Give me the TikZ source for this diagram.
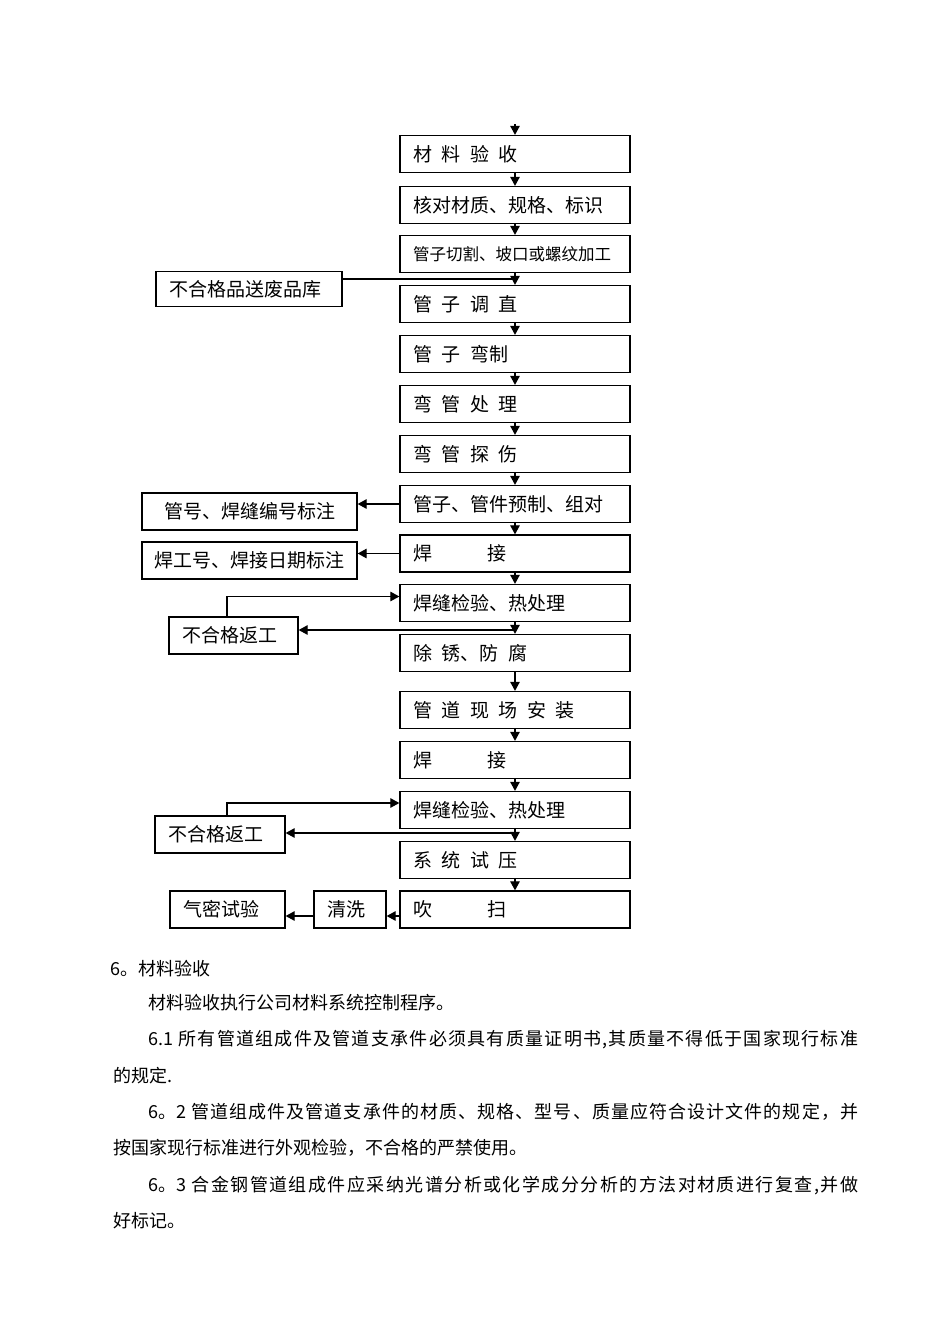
\documentclass[tikz,border=0pt]{standalone}
\usepackage{fontspec}
\setmainfont{Noto Sans CJK SC}
\usetikzlibrary{arrows.meta}
\makeatletter
\newcommand\spreadline[2]{\makebox[#1][s]{\@tfor\sp@c:=#2\do{\sp@c\hskip 0pt plus 1fil}\unskip}}
\makeatother
\newcommand\hs{\hspace{9.5pt}}
\begin{document}
\begin{tikzpicture}[x=1pt,y=-1pt,
  box/.style={draw,line width=1.3pt,minimum height=37pt,inner xsep=13pt,inner ysep=0pt,align=left,font=\fontsize{19pt}{22pt}\selectfont},
  mainbox/.style={box,text width=204pt},
  arr/.style={line width=1.2pt,-{Triangle[length=9pt,width=9.5pt]}},
  ln/.style={line width=1.2pt},
  body/.style={anchor=base west,inner sep=0pt,font=\fontsize{18pt}{22pt}\selectfont}]
\useasboundingbox[fill=white] (0,0) rectangle (950,1344);
% main column
\node[mainbox] (b1) at (515,154) {材\hs 料\hs 验\hs 收};
\node[mainbox] (b2) at (515,205) {核对材质、规格、标识};
\node[mainbox] (b3) at (515,254) {\fontsize{16.5pt}{20pt}\selectfont 管子切割、坡口或螺纹加工};
\node[mainbox] (b4) at (515,304) {管\hs 子\hs 调\hs 直};
\node[mainbox] (b5) at (515,354) {管\hs 子\hs 弯制};
\node[mainbox] (b6) at (515,404) {弯\hs 管\hs 处\hs 理};
\node[mainbox] (b7) at (515,454) {弯\hs 管\hs 探\hs 伤};
\node[mainbox] (b8) at (515,504) {管子、管件预制、组对};
\node[mainbox] (b9) at (515,553.5) {焊\hspace{56pt}接};
\node[mainbox] (b10) at (515,603) {焊缝检验、热处理};
\node[mainbox] (b11) at (515,653) {除\hs 锈、防\hs 腐};
\node[mainbox] (b12) at (515,710) {管\hs 道\hs 现\hs 场\hs 安\hs 装};
\node[mainbox] (b13) at (515,760) {焊\hspace{56pt}接};
\node[mainbox] (b14) at (515,810) {焊缝检验、热处理};
\node[mainbox] (b15) at (515,860) {系\hs 统\hs 试\hs 压};
\node[mainbox] (b16) at (515,909.5) {吹\hspace{56pt}扫};
% side boxes
\node[box,text width=160pt,minimum height=35pt] (rej) at (249,289) {不合格品送废品库};
\node[box,text width=190pt,inner xsep=12.5pt,align=center] (tag1) at (249.5,511.5) {管号、焊缝编号标注};
\node[box,text width=190pt,inner xsep=12.5pt] (tag2) at (249.5,560.5) {焊工号、焊接日期标注};
\node[box,text width=103pt] (rw1) at (233.5,635.5) {不合格返工};
\node[box,text width=104pt] (rw2) at (220,834.5) {不合格返工};
\node[box,text width=89pt] (qm) at (227.5,909.5) {气密试验};
\node[box,text width=46pt] (cl) at (350,909.5) {清洗};
% main flow arrows
\coordinate (top) at (515,124);
\draw[arr] (top) -- (b1);
\foreach \a/\b in {b1/b2,b2/b3,b3/b4,b4/b5,b5/b6,b6/b7,b7/b8,b8/b9,b9/b10,b10/b11,b11/b12,b12/b13,b13/b14,b14/b15,b15/b16}
  \draw[arr] (\a) -- (\b);
% reject line
\coordinate (j) at (515,279);
\draw[ln] (rej.east |- j) -- (j);
% tag arrows
\draw[arr] (b8.west) -- (b8.west -| tag1.east);
\draw[arr] (b9.west) -- (b9.west -| tag2.east);
% rework loops
\draw[arr] ([xshift=-6.5pt]rw1.north) |- ([yshift=6.5pt]b10.west);
\coordinate (f1) at (515,630);
\draw[arr] (f1) -- (f1 -| rw1.east);
\draw[arr] ([xshift=7pt]rw2.north) |- ([yshift=7pt]b14.west);
\coordinate (f2) at (515,833);
\draw[arr] (f2) -- (f2 -| rw2.east);
% bottom
\draw[arr] ([yshift=-6.5pt]b16.west) -- ([yshift=-6.5pt]b16.west -| cl.east);
\draw[arr] ([yshift=-6.5pt]cl.west) -- ([yshift=-6.5pt]cl.west -| qm.east);
% body text
\node[body] (h6) at (110,975) {6。材料验收};
\node[body] (p0) at (148,1009) {材料验收执行公司材料系统控制程序。};
\node[body] (p1) at (148,1045) {\spreadline{710pt}{{6.1 }所有管道组成件及管道支承件必须具有质量证明书,其质量不得低于国家现行标准}};
\node[body] (p1b) at (113,1082) {的规定.};
\node[body] (p2) at (148,1118) {\spreadline{710pt}{{6。2 }管道组成件及管道支承件的材质、规格、型号、质量应符合设计文件的规定，并}};
\node[body] (p2b) at (113,1154) {按国家现行标准进行外观检验，不合格的严禁使用。};
\node[body] (p3) at (148,1191) {\spreadline{710pt}{{6。3 }合金钢管道组成件应采纳光谱分析或化学成分分析的方法对材质进行复查,并做}};
\node[body] (p3b) at (113,1227) {好标记。};
\end{tikzpicture}
\end{document}
